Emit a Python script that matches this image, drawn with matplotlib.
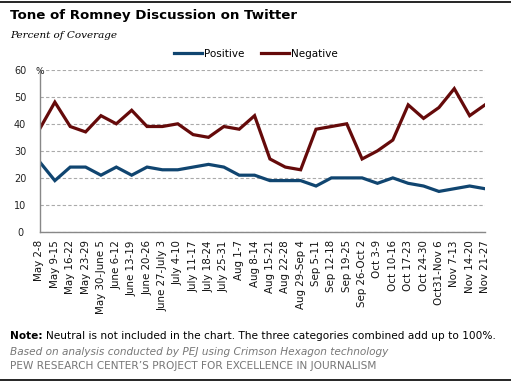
import matplotlib.pyplot as plt

weeks = ["May 2-8", "May 9-15", "May 16-22", "May 23-29", "May 30-June 5",
         "June 6-12", "June 13-19", "June 20-26", "June 27-July 3", "July 4-10",
         "July 11-17", "July 18-24", "July 25-31", "Aug 1-7", "Aug 8-14",
         "Aug 15-21", "Aug 22-28", "Aug 29-Sep 4", "Sep 5-11", "Sep 12-18",
         "Sep 19-25", "Sep 26-Oct 2", "Oct 3-9", "Oct 10-16", "Oct 17-23",
         "Oct 24-30", "Oct31-Nov 6", "Nov 7-13", "Nov 14-20", "Nov 21-27"]
positive = [26, 19, 24, 24, 21, 24, 21, 24, 23, 23, 24, 25, 24, 21, 21,
            19, 19, 19, 17, 20, 20, 20, 18, 20, 18, 17, 15, 16, 17, 16]
negative = [38, 48, 39, 37, 43, 40, 45, 39, 39, 40, 36, 35, 39, 38, 43,
            27, 24, 23, 38, 39, 40, 27, 30, 34, 47, 42, 46, 53, 43, 47]

pos_color = "#104570"
neg_color = "#650a0a"

fig = plt.figure(figsize=(5.11, 3.83), dpi=100)
W, H = 511, 383
ax = fig.add_axes([39.5 / W, 1 - 232 / H, (485 - 39.5) / W, (232 - 69.7) / H])

x = range(len(weeks))
ax.plot(x, positive, color=pos_color, lw=2.3, label="Positive", solid_joinstyle="miter")
ax.plot(x, negative, color=neg_color, lw=2.3, label="Negative", solid_joinstyle="miter")

ax.set_xlim(0, len(weeks) - 1)
ax.set_ylim(0, 60)
ax.set_yticks(range(0, 61, 10))
ax.set_yticklabels([str(v) for v in range(0, 61, 10)], fontsize=7, color="#222222")
ax.set_xticks(list(x))
ax.set_xticklabels(weeks, rotation=90, fontsize=7.4, color="#111111")
ax.tick_params(length=0, pad=6)
ax.tick_params(axis="y", pad=14)
for lab in ax.get_yticklabels():
    lab.set_horizontalalignment("center")

ax.grid(axis="y", linestyle=(0, (3, 2)), color="#aaaaaa", lw=0.8)
ax.set_axisbelow(True)
for s in ["top", "right"]:
    ax.spines[s].set_visible(False)
ax.spines["left"].set_color("#888888")
ax.spines["bottom"].set_color("#888888")
ax.spines["left"].set_linewidth(1)
ax.spines["bottom"].set_linewidth(1)

ax.text(-0.25, 59.5, "%", fontsize=6.5, color="#222222", va="center", ha="left")

fig.legend(loc="center", bbox_to_anchor=(256 / W, 1 - 54 / H), ncol=2, frameon=False,
           fontsize=7.5, handlelength=2.7, columnspacing=1.6, handletextpad=0.2)

# frame lines
fig.add_artist(plt.Line2D([0, 1], [1 - 2 / H, 1 - 2 / H], color="black", lw=1.2))
fig.add_artist(plt.Line2D([0, 1], [1 - 380 / H, 1 - 380 / H], color="black", lw=1.2))

fig.text(10 / W, 1 - 16 / H, "Tone of Romney Discussion on Twitter", fontsize=9.6,
         fontweight="bold", va="center", ha="left")
fig.text(10 / W, 1 - 35 / H, "Percent of Coverage", fontsize=7.5, style="italic",
         family="DejaVu Serif", va="center", ha="left")

note_lbl = fig.text(10 / W, 1 - 336 / H, "Note:", fontsize=7.6, fontweight="bold",
                    va="center", ha="left")
fig.canvas.draw()
bb = note_lbl.get_window_extent()
fig.text((bb.x1 + 3) / W, 1 - 336 / H,
         "Neutral is not included in the chart. The three categories combined add up to 100%.",
         fontsize=7.6, va="center", ha="left")
fig.text(10 / W, 1 - 352 / H, "Based on analysis conducted by PEJ using Crimson Hexagon technology",
         fontsize=7.6, style="italic", color="#777777", va="center", ha="left")
fig.text(10 / W, 1 - 366 / H, "PEW RESEARCH CENTER\u2019S PROJECT FOR EXCELLENCE IN JOURNALISM",
         fontsize=7.6, color="#777777", va="center", ha="left")

fig.savefig("out.png", dpi=100)
